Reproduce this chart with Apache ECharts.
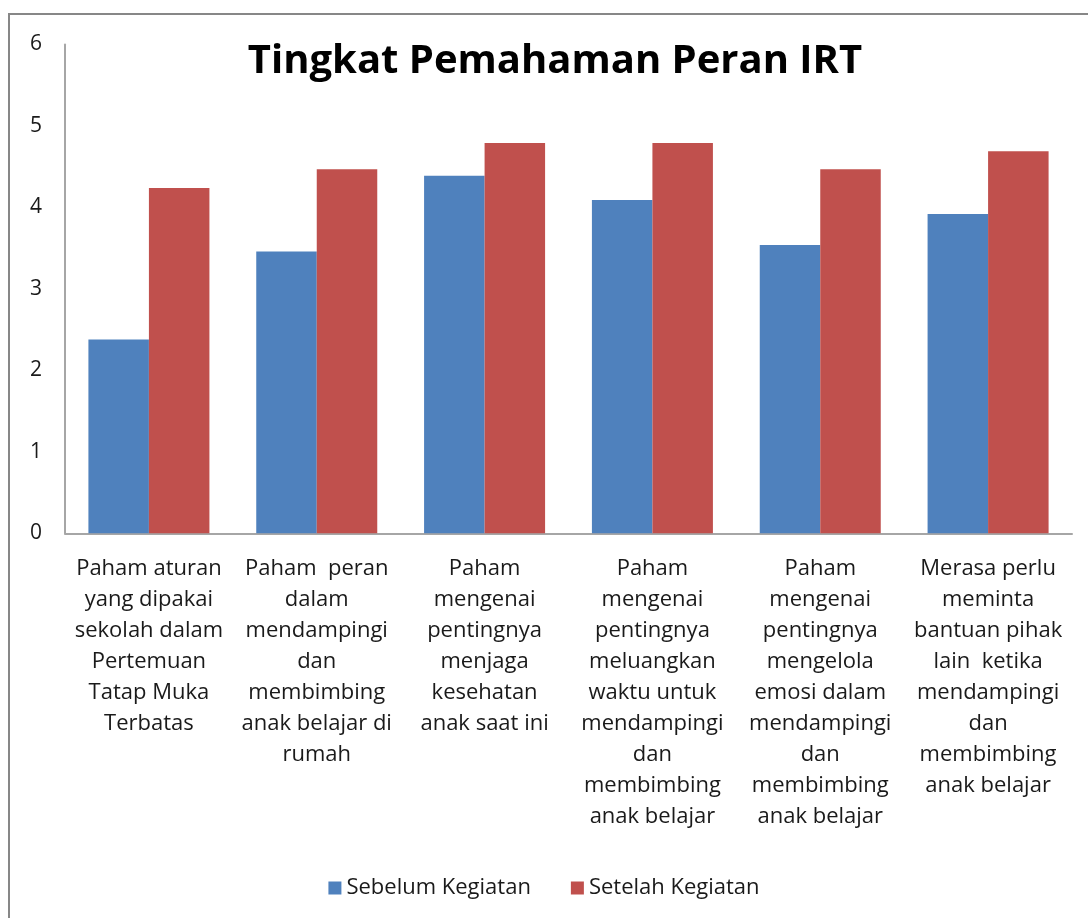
<!DOCTYPE html>
<html>
<head>
<meta charset="utf-8">
<script src="https://cdn.jsdelivr.net/npm/echarts@6/dist/echarts.min.js"></script>
<style>
  html, body { margin: 0; padding: 0; background: #fff; }
  #chart { width: 1088px; height: 918px; }
</style>
</head>
<body>
<div id="chart"></div>
<script>
  // kategori (baris dipecah seperti di gambar)
  let categories = [
    'Paham aturan\nyang dipakai\nsekolah dalam\nPertemuan\nTatap Muka\nTerbatas',
    'Paham  peran\ndalam\nmendampingi\ndan\nmembimbing\nanak belajar di\nrumah',
    'Paham\nmengenai\npentingnya\nmenjaga\nkesehatan\nanak saat ini',
    'Paham\nmengenai\npentingnya\nmeluangkan\nwaktu untuk\nmendampingi\ndan\nmembimbing\nanak belajar',
    'Paham\nmengenai\npentingnya\nmengelola\nemosi dalam\nmendampingi\ndan\nmembimbing\nanak belajar',
    'Merasa perlu\nmeminta\nbantuan pihak\nlain  ketika\nmendampingi\ndan\nmembimbing\nanak belajar'
  ]
  let sebelum = [2.38, 3.46, 4.39, 4.09, 3.54, 3.92]
  let setelah = [4.24, 4.47, 4.79, 4.79, 4.47, 4.69]
  let seriesNames = ['Sebelum Kegiatan', 'Setelah Kegiatan']

  let myChart = echarts.init(document.getElementById('chart'))
  let font = '"Open Sans", "Noto Sans", sans-serif'

  let option = {
    animation: false,
    title: {
      text: 'Tingkat Pemahaman Peran IRT',
      left: 550,
      textAlign: 'center',
      top: 37,
      textStyle: { fontFamily: font, fontSize: 40, fontWeight: 'bold', color: '#000' }
    },
    // bingkai luar
    graphic: [{
      type: 'rect',
      shape: { x: 9, y: 14, width: 2000, height: 2000 },
      style: { fill: 'none', stroke: '#878787', lineWidth: 2 },
      silent: true
    }],
    legend: {
      data: seriesNames,
      left: 'center',
      top: 872,
      icon: 'rect',
      itemWidth: 13,
      itemHeight: 13,
      itemGap: 40,
      textStyle: { fontFamily: font, fontSize: 22, color: '#1a1a1a' }
    },
    grid: { left: 65, right: 16, top: 44.5, bottom: 384.7 },
    xAxis: {
      type: 'category',
      data: categories,
      axisTick: { show: false },
      axisLine: { lineStyle: { color: '#a6a6a6', width: 2 } },
      axisLabel: {
        interval: 0,
        margin: 20,
        fontFamily: font,
        fontSize: 22,
        lineHeight: 31,
        color: '#1a1a1a',
        align: 'center'
      }
    },
    yAxis: {
      type: 'value',
      min: 0,
      max: 6,
      interval: 1,
      axisTick: { show: false },
      axisLine: { show: true, lineStyle: { color: '#a6a6a6', width: 2 } },
      splitLine: { show: false },
      axisLabel: { margin: 23, fontFamily: font, fontSize: 21, color: '#1a1a1a' }
    },
    series: [{
      name: seriesNames[0],
      type: 'bar',
      data: sebelum,
      barGap: '0%',
      barCategoryGap: '27.9%',
      itemStyle: { color: '#4F81BD' }
    }, {
      name: seriesNames[1],
      type: 'bar',
      data: setelah,
      itemStyle: { color: '#C0504D' }
    }]
  }
  myChart.setOption(option)
</script>
</body>
</html>
